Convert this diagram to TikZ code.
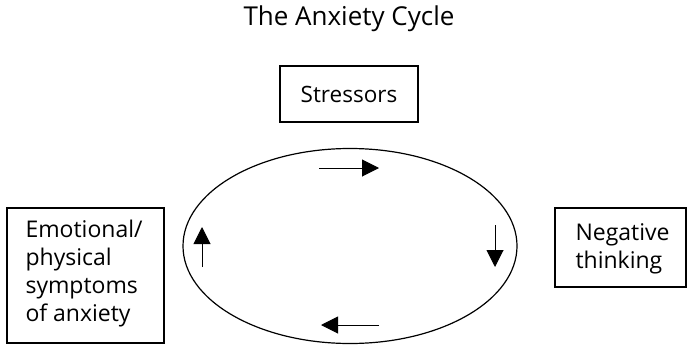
\documentclass[tikz,border=0pt]{standalone}
\usepackage{fontspec}
\setmainfont{Open Sans}
\usetikzlibrary{shapes.geometric,arrows.meta}

\begin{document}
\begin{tikzpicture}[x=1pt,y=-1pt]
 % style des noeuds
  \tikzstyle{boite}=[rectangle,draw,line width=2pt,inner sep=0pt]
  \tikzstyle{texte}=[align=left,font=\fontsize{23}{28}\selectfont]
 % style des fleches
  \tikzstyle{sens}=[-{Triangle[length=17pt,width=17pt]},line width=1pt]
  \useasboundingbox (0,0) rectangle (687,345);
 % placement des noeuds
  \node[font=\fontsize{26}{30}\selectfont] (titre) at (349,19) {The Anxiety Cycle};
  \node[boite,minimum width=138pt,minimum height=56pt,font=\fontsize{22.5}{28}\selectfont] (stress) at (349,94) {Stressors};
  \node[boite,minimum width=157pt,minimum height=135pt] (symptomes) at (85.5,275.5) {};
  \node[texte,anchor=west] (symtexte) at (22,274) {Emotional/\\physical\\symptoms\\of anxiety};
  \node[boite,minimum width=131pt,minimum height=79pt] (negatif) at (620.5,247.5) {};
  \node[texte,anchor=west] (negtexte) at (572,249) {Negative\\thinking};
  \node[ellipse,draw,line width=1.2pt,minimum width=334pt,minimum height=195pt] (cycle) at (350,246) {};
 % points des fleches
  \coordinate (h1) at (319,168); \coordinate (h2) at (379,168);
  \coordinate (d1) at (495,225); \coordinate (d2) at (495,267);
  \coordinate (b1) at (379,325); \coordinate (b2) at (321,325);
  \coordinate (g1) at (202,267); \coordinate (g2) at (202,227);
 % placement des fleches
  \draw[sens] (h1) -- (h2);
  \draw[sens] (d1) -- (d2);
  \draw[sens] (b1) -- (b2);
  \draw[sens] (g1) -- (g2);
\end{tikzpicture}
\end{document}
